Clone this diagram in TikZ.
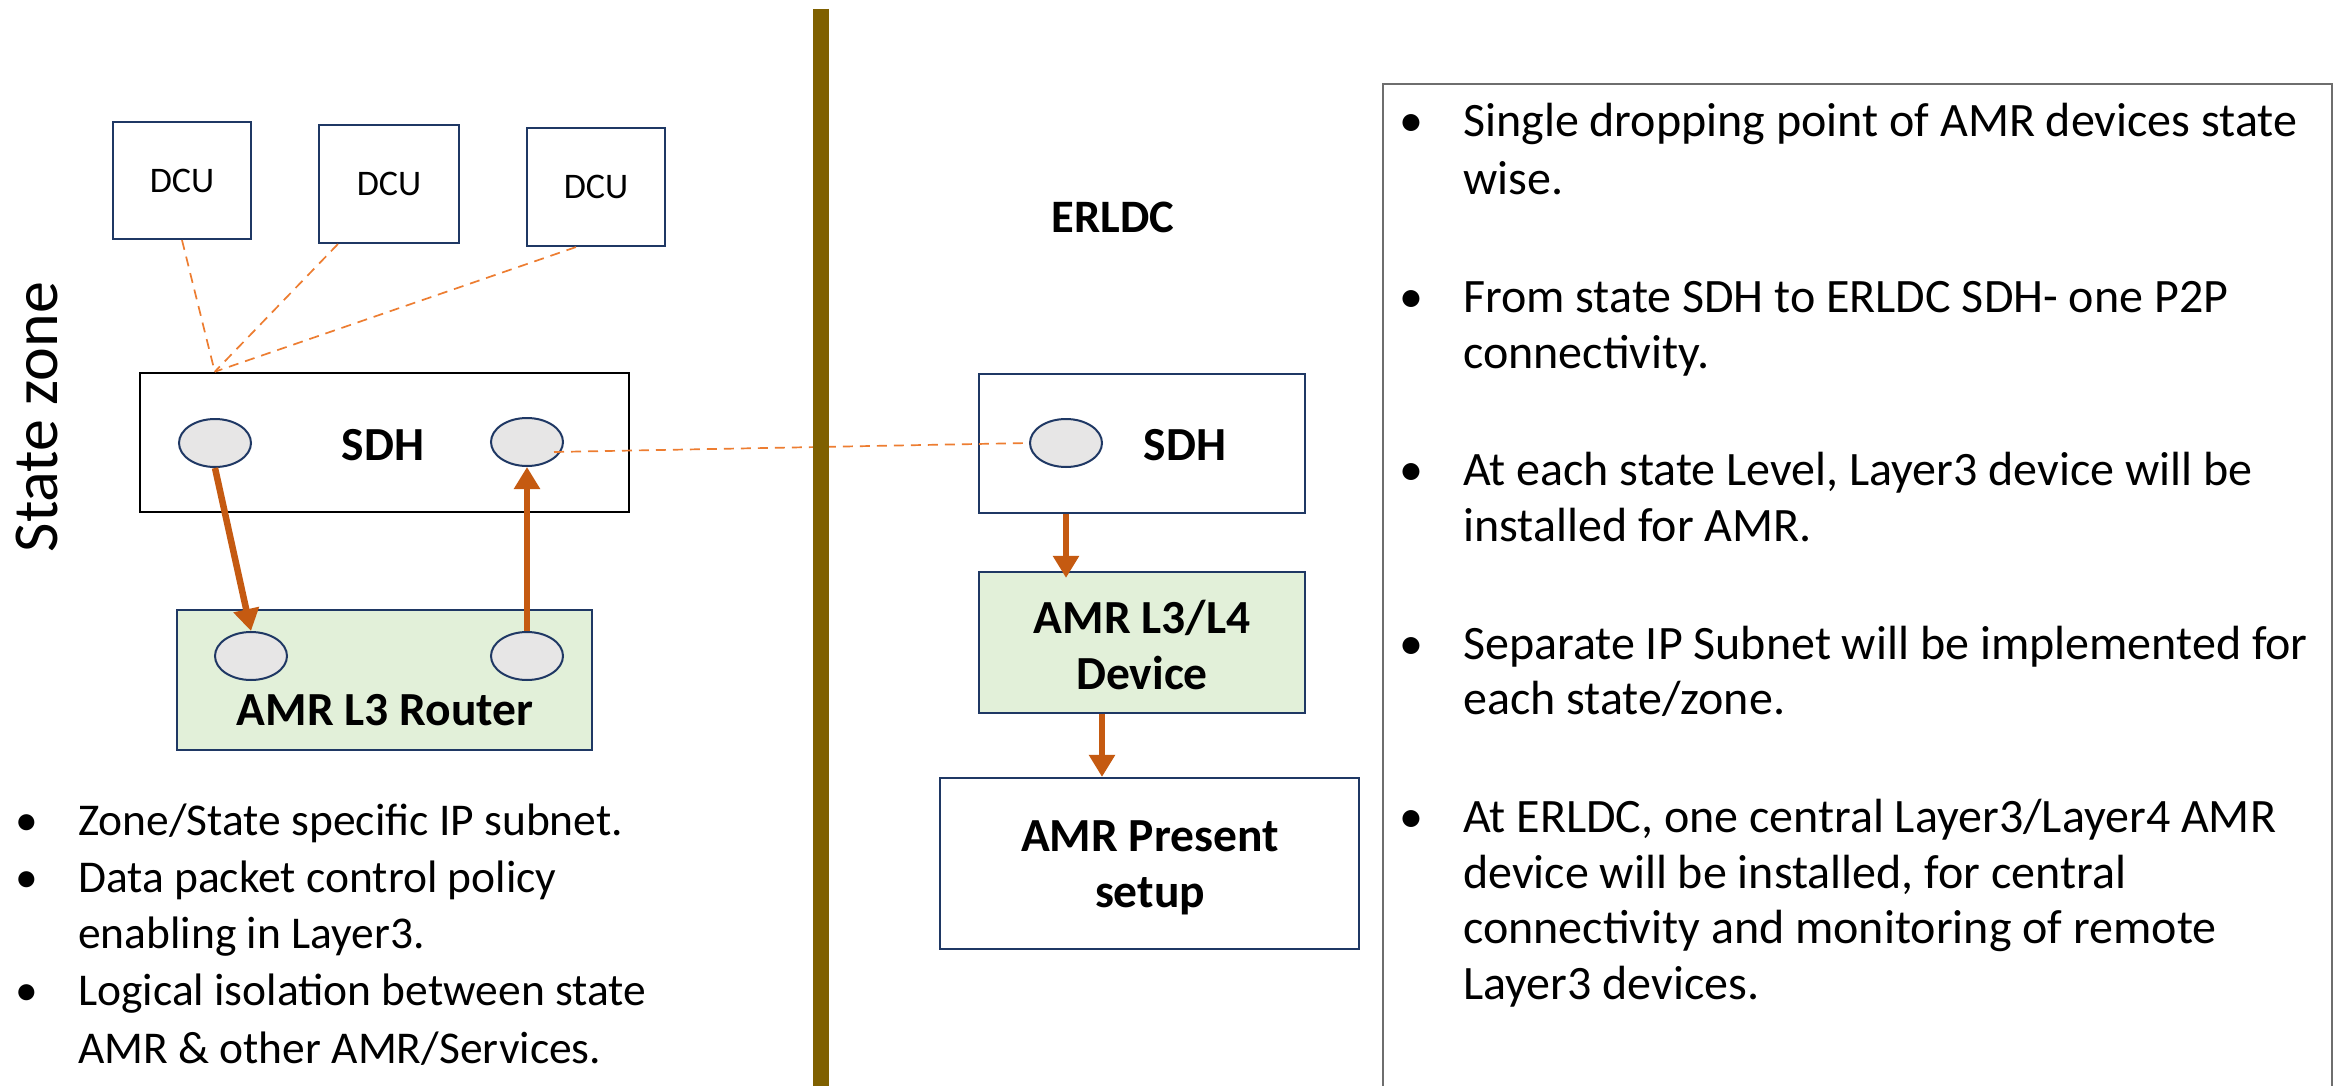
\documentclass[tikz,border=0pt]{standalone}
\usepackage{fontspec}
\setmainfont{Carlito}
\usetikzlibrary{arrows.meta,shapes.geometric}
\definecolor{navyc}{HTML}{1F3864}
\definecolor{portgray}{HTML}{E7E6E6}
\definecolor{greenfill}{HTML}{E2F0D9}
\definecolor{orangec}{HTML}{ED7D31}
\definecolor{arrowc}{HTML}{C55A11}
\definecolor{divc}{HTML}{7F6000}
\definecolor{panelc}{HTML}{6E6E6E}
\begin{document}
\begin{tikzpicture}[x=1pt,y=-1pt,
  box/.style={rectangle, draw=navyc, line width=2.2pt, inner sep=0pt},
  port/.style={ellipse, draw=navyc, fill=portgray, line width=2pt, minimum width=72pt, minimum height=48pt, inner sep=0pt},
  link/.style={draw=orangec, dash pattern=on 10pt off 7pt, line width=1.7pt},
  flow/.style={draw=arrowc, line width=6.5pt, -{Triangle[width=25pt,length=22pt]}},
  lbl/.style={font=\fontsize{47.5}{56}\selectfont\bfseries, align=center, inner sep=0pt},
  rtxt/.style={font=\fontsize{48}{57.7}\selectfont, anchor=base west, inner sep=0pt},
  ltxt/.style={font=\fontsize{45.5}{57}\selectfont, anchor=base west, inner sep=0pt},
  rbul/.style={font=\fontsize{48}{57.7}\selectfont, anchor=base, inner sep=0pt},
  lbul/.style={font=\fontsize{45.5}{57}\selectfont, anchor=base, inner sep=0pt},
]
\useasboundingbox[fill=white] (0,0) rectangle (2333,1086);

% State zone label
\node[rotate=90, font=\fontsize{64}{70}\selectfont, inner sep=0pt] (statezone) at (37,417) {State zone};

% DCUs
\node[box, minimum width=138pt, minimum height=117pt, font=\fontsize{36}{40}\selectfont] (dcu1) at (182,180.5) {DCU};
\node[box, minimum width=140pt, minimum height=118pt, font=\fontsize{36}{40}\selectfont] (dcu2) at (389,184) {DCU};
\node[box, minimum width=138pt, minimum height=118pt, font=\fontsize{36}{40}\selectfont] (dcu3) at (596,187) {DCU};

% State SDH
\node[rectangle, draw=black, line width=2.5pt, minimum width=489pt, minimum height=139pt, inner sep=0pt] (sdhL) at (384.5,442.5) {};
\node[lbl] (sdhLt) at (383,445) {SDH};
\node[port] (e1) at (215,443) {};
\node[port] (e2) at (527,442) {};

% Router
\node[box, fill=greenfill, minimum width=415pt, minimum height=140pt] (router) at (384.5,680) {};
\node[lbl] (routert) at (385,710) {AMR L3 Router};
\node[port] (r1) at (251,656) {};
\node[port] (r2) at (527,656) {};

\coordinate (conv) at ([xshift=76pt]sdhL.north west);
\draw[link] (dcu1.south) -- (conv);
\draw[link] ([xshift=20pt]dcu2.south west) -- (conv);
\draw[link] ([xshift=50pt]dcu3.south west) -- (conv);

\draw[flow] (e1.south) -- (r1.north);
\draw[flow] (r2.north) -- (e2.south);

% ERLDC side
\node[font=\fontsize{46.5}{50}\selectfont\bfseries, inner sep=0pt] (erldc) at (1113,217) {ERLDC};
\node[box, minimum width=326pt, minimum height=139pt] (sdhR) at (1142,443.5) {};
\node[lbl] (sdhRt) at (1185,445) {SDH};
\node[port] (e3) at (1066,443) {};
\node[box, fill=greenfill, minimum width=326pt, minimum height=141pt] (device) at (1142,642.5) {};
\node[lbl] (devicet) at (1142,645) {AMR L3/L4\\Device};
\node[box, minimum width=419pt, minimum height=171pt] (present) at (1149.5,863.5) {};
\node[lbl] (presentt) at (1150,868) {AMR Present\\setup};

\draw[link] ([xshift=27pt,yshift=-10pt]e2.center) -- (e3.west);

\draw[flow] (e3 |- sdhR.south) -- ([yshift=-7pt]e3 |- device.north);
\draw[flow] ([xshift=-40pt]device.south) -- ([xshift=-40pt]device.south |- present.north);

% divider
\draw[line width=16pt, draw=divc] (821,9) -- (821,1090);

% Left bullets
\node[lbul] (lb1) at (27,835) {•};
\node[ltxt] (lt1a) at (78,835) {Zone/State specific IP subnet.};
\node[lbul] (lb2) at (27,892) {•};
\node[ltxt] (lt2a) at (78,892) {Data packet control policy};
\node[ltxt] (lt2b) at (78,948) {enabling in Layer3.};
\node[lbul] (lb3) at (27,1005) {•};
\node[ltxt] (lt3a) at (78,1005) {Logical isolation between state};
\node[ltxt] (lt3b) at (78,1063) {AMR \& other AMR/Services.};

% Right panel
\draw[draw=panelc, line width=2pt] (1383,84) rectangle (2332,1095);
\node[rbul] (rb1) at (1411,137) {•};
\node[rtxt] (rt1a) at (1463,137) {Single dropping point of AMR devices state};
\node[rtxt] (rt1b) at (1463,195) {wise.};
\node[rbul] (rb2) at (1411,312) {•};
\node[rtxt] (rt2a) at (1463,312) {From state SDH to ERLDC SDH- one P2P};
\node[rtxt] (rt2b) at (1463,368) {connectivity.};
\node[rbul] (rb3) at (1411,485) {•};
\node[rtxt] (rt3a) at (1463,485) {At each state Level, Layer3 device will be};
\node[rtxt] (rt3b) at (1463,541) {installed for AMR.};
\node[rbul] (rb4) at (1411,659) {•};
\node[rtxt] (rt4a) at (1463,659) {Separate IP Subnet will be implemented for};
\node[rtxt] (rt4b) at (1463,714) {each state/zone.};
\node[rbul] (rb5) at (1411,832) {•};
\node[rtxt] (rt5a) at (1463,832) {At ERLDC, one central Layer3/Layer4 AMR};
\node[rtxt] (rt5b) at (1463,888) {device will be installed, for central};
\node[rtxt] (rt5c) at (1463,943) {connectivity and monitoring of remote};
\node[rtxt] (rt5d) at (1463,999) {Layer3 devices.};
\end{tikzpicture}
\end{document}
